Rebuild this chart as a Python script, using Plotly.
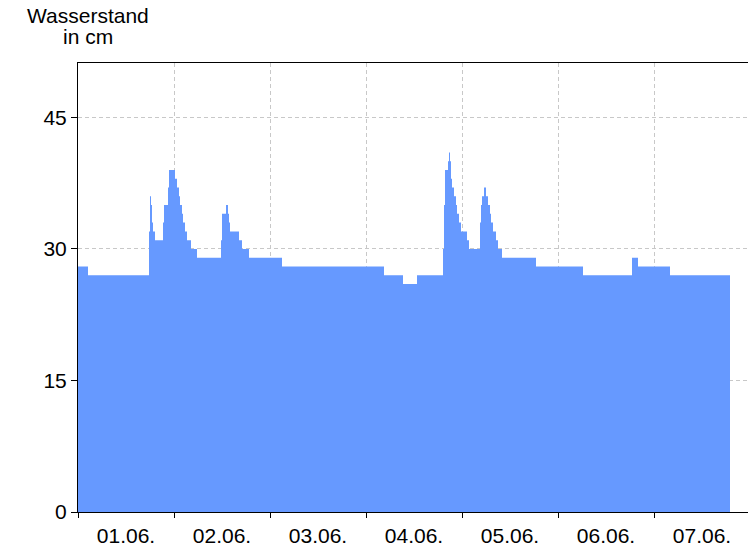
import pandas as pd
import plotly.graph_objects as go

# Hours after 01.06. 00:00 at which the water level changes (step data), and the new level in cm
hours = [0, 2.5, 17.75, 18.0, 18.25, 18.5, 18.75, 19.25, 21.25, 21.5, 22.5, 22.75,
         24.25, 24.75, 25.25, 25.5, 26.0, 26.25, 26.75, 27.25, 28.25, 29.75,
         35.75, 36.0, 37.0, 37.5, 37.75, 38.0, 40.25, 41.0, 42.75, 51.0,
         76.5, 81.25, 84.75,
         91.25, 91.5, 91.75, 92.5, 92.75, 93.0, 93.25, 93.5, 94.0, 94.5, 94.75, 95.25, 95.75,
         97.25, 97.75, 100.5, 100.75, 101.0, 101.5, 102.0, 102.5, 103.0, 103.25, 103.75,
         104.5, 105.0, 106.0, 114.5, 126.25, 138.5, 140.0, 148.0, 163.0]
level_cm = [28, 27, 32, 36, 35, 33, 32, 31, 33, 35, 37, 39,
            38, 37, 36, 35, 34, 33, 32, 31, 30, 29,
            31, 34, 35, 34, 33, 32, 31, 30, 29, 28,
            27, 26, 27,
            30, 35, 39, 40, 41, 40, 38, 37, 36, 35, 34, 33, 32,
            31, 30, 33, 35, 36, 37, 36, 35, 34, 33, 32,
            31, 30, 29, 28, 27, 29, 28, 27, 27]

start = pd.Timestamp("2024-06-01 00:00")
times = [start + pd.Timedelta(hours=h) for h in hours]

y_ticks = [0, 15, 30, 45]
x_range = ["2024-06-01 00:00", "2024-06-08 00:00"]

fig = go.Figure()
fig.add_trace(go.Scatter(
    x=times, y=level_cm, mode="lines", line_shape="hv",
    line=dict(width=0, color="#6699ff"),
    fill="tozeroy", fillcolor="#6699ff", hoverinfo="x+y", showlegend=False,
))

font = dict(family="Liberation Sans, Arial, sans-serif", size=21, color="black")

fig.update_layout(
    width=748, height=538,
    margin=dict(l=70, r=6, t=55, b=34),
    paper_bgcolor="white", plot_bgcolor="white",
    font=font,
    xaxis=dict(
        type="date", range=x_range, automargin=False,
        dtick=86400000, tick0="2024-06-01", tickformat="%d.%m.",
        ticklabelmode="period",
        showgrid=True, gridcolor="#c8c8c8", griddash="4px,3px", gridwidth=1,
        ticks="outside", ticklen=5, tickcolor="black",
        showline=True, linecolor="black", linewidth=1, mirror=True,
        zeroline=False, tickfont=font,
    ),
    yaxis=dict(
        range=[0, 51.2], tickvals=y_ticks, automargin=False,
        showgrid=True, gridcolor="#c8c8c8", griddash="4px,3px", gridwidth=1,
        ticks="outside", ticklen=6, tickcolor="black",
        showline=True, linecolor="black", linewidth=1, mirror=True,
        zeroline=False, tickfont=font,
    ),
    annotations=[
        dict(text="Wasserstand", xref="paper", yref="paper", x=0, y=1,
             xanchor="center", yanchor="middle", xshift=10, yshift=48,
             showarrow=False, font=font),
        dict(text="in cm", xref="paper", yref="paper", x=0, y=1,
             xanchor="center", yanchor="middle", xshift=10, yshift=27,
             showarrow=False, font=font),
    ],
)

fig.write_html("out.html")
